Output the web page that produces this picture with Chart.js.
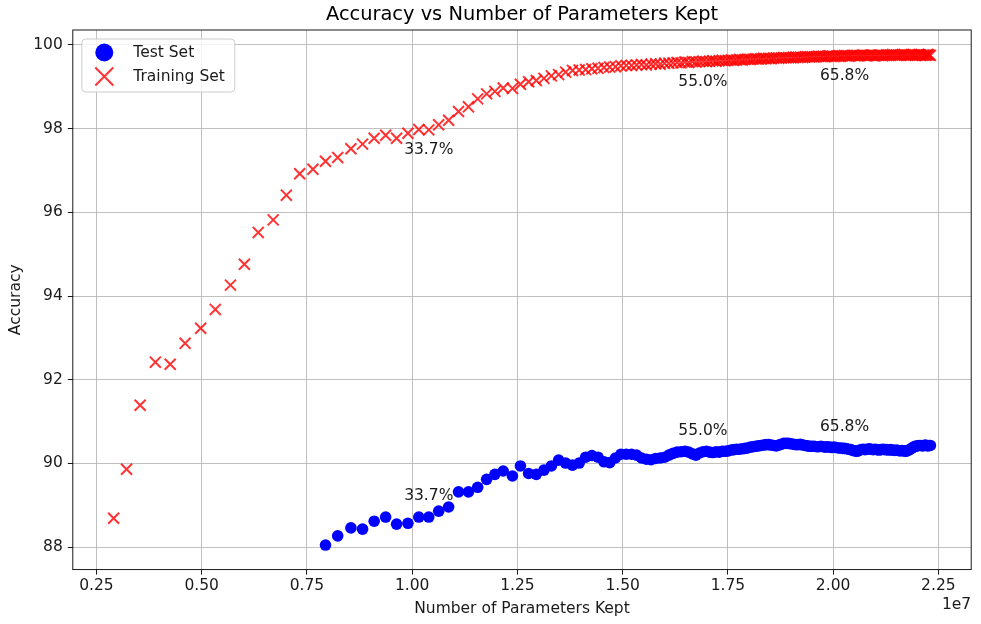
<!DOCTYPE html>
<html>
<head>
<meta charset="utf-8">
<script src="https://cdn.jsdelivr.net/npm/chart.js@4.4.1/dist/chart.umd.min.js"></script>
<style>
  html, body { margin: 0; padding: 0; background: #ffffff; }
  #c { display: block; }
</style>
</head>
<body>
<canvas id="c" width="981" height="624"></canvas>
<script>
// ---------- DATA (x in units of 1e7 parameters) ----------
const paramsKept = [
  0.2908, 0.3215, 0.3538, 0.3899, 0.4252, 0.4606, 0.4976, 0.5323, 0.5684, 0.6014,
  0.6344, 0.6698, 0.7012, 0.7328, 0.7642, 0.7941, 0.8231, 0.8545, 0.8821, 0.9097,
  0.9370, 0.9630, 0.9899, 1.0158, 1.0394, 1.0630, 1.0866, 1.1101, 1.1337, 1.1557,
  1.1769, 1.1965, 1.2163, 1.2382, 1.2571, 1.2767, 1.2948, 1.3130, 1.3307, 1.3479,
  1.3646, 1.3809, 1.3967, 1.4120, 1.4269, 1.4415, 1.4557, 1.4693, 1.4828, 1.4958,
  1.5085, 1.5210, 1.5330, 1.5448, 1.5564, 1.5677, 1.5785, 1.5892, 1.5995, 1.6097,
  1.6196, 1.6292, 1.6387, 1.6479, 1.6568, 1.6656, 1.6741, 1.6825, 1.6908, 1.6988,
  1.7066, 1.7144, 1.7219, 1.7292, 1.7366, 1.7436, 1.7507, 1.7575, 1.7642, 1.7708,
  1.7774, 1.7840, 1.7905, 1.7970, 1.8034, 1.8098, 1.8161, 1.8224, 1.8286, 1.8348,
  1.8409, 1.8470, 1.8530, 1.8590, 1.8650, 1.8709, 1.8768, 1.8826, 1.8884, 1.8942,
  1.8999, 1.9056, 1.9112, 1.9168, 1.9224, 1.9279, 1.9334, 1.9389, 1.9443, 1.9497,
  1.9551, 1.9604, 1.9657, 1.9710, 1.9762, 1.9814, 1.9866, 1.9918, 1.9969, 2.0020,
  2.0071, 2.0122, 2.0172, 2.0222, 2.0272, 2.0322, 2.0371, 2.0420, 2.0469, 2.0518,
  2.0567, 2.0615, 2.0663, 2.0711, 2.0759, 2.0807, 2.0855, 2.0902, 2.0949, 2.0996,
  2.1043, 2.1090, 2.1137, 2.1183, 2.1229, 2.1275, 2.1321, 2.1367, 2.1413, 2.1459,
  2.1504, 2.1549, 2.1594, 2.1639, 2.1684, 2.1729, 2.1774, 2.1819, 2.1863, 2.1907,
  2.1951, 2.1995, 2.2039, 2.2083, 2.2127, 2.2160, 2.2190, 2.2220, 2.2250, 2.2280,
  2.2310
];

const trainAcc = [
  88.69, 89.86, 91.39, 92.42, 92.37, 92.87, 93.23, 93.68, 94.26, 94.76,
  95.52, 95.82, 96.41, 96.92, 97.03, 97.22, 97.31, 97.52, 97.63, 97.77,
  97.84, 97.77, 97.89, 97.98, 97.97, 98.09, 98.20, 98.41, 98.52, 98.71,
  98.83, 98.89, 98.97, 98.96, 99.06, 99.12, 99.15, 99.20, 99.26, 99.29,
  99.35, 99.39, 99.40, 99.41, 99.43, 99.44, 99.46, 99.47, 99.48, 99.50,
  99.51, 99.51, 99.52, 99.53, 99.52, 99.54, 99.55, 99.54, 99.56, 99.56,
  99.57, 99.58, 99.57, 99.59, 99.58, 99.60, 99.59, 99.60, 99.61, 99.60,
  99.61, 99.62, 99.61, 99.62, 99.63, 99.62, 99.63, 99.64, 99.63, 99.64,
  99.65, 99.64, 99.65, 99.66, 99.65, 99.66, 99.67, 99.66, 99.67, 99.68,
  99.67, 99.68, 99.67, 99.68, 99.69, 99.68, 99.69, 99.70, 99.69, 99.70,
  99.69, 99.70, 99.71, 99.70, 99.71, 99.70, 99.71, 99.72, 99.71, 99.72,
  99.71, 99.72, 99.73, 99.72, 99.73, 99.72, 99.73, 99.74, 99.73, 99.72,
  99.73, 99.74, 99.73, 99.74, 99.75, 99.74, 99.73, 99.74, 99.75, 99.74,
  99.75, 99.74, 99.75, 99.76, 99.75, 99.74, 99.75, 99.76, 99.75, 99.74,
  99.75, 99.76, 99.75, 99.74, 99.75, 99.76, 99.75, 99.76, 99.77, 99.76,
  99.75, 99.76, 99.75, 99.76, 99.77, 99.76, 99.75, 99.76, 99.77, 99.76,
  99.75, 99.76, 99.77, 99.76, 99.75, 99.76, 99.75, 99.76, 99.77, 99.76,
  99.75
];

// test accuracy is only measured from the 16th pruning step onward
const TEST_START = 15;
const testAcc = [
  88.05, 88.27, 88.46, 88.43, 88.62, 88.72, 88.55, 88.57, 88.72, 88.72,
  88.86, 88.96, 89.32, 89.32, 89.43, 89.62, 89.74, 89.82, 89.70, 89.94,
  89.76, 89.74, 89.84, 89.94, 90.08, 90.01, 89.96, 90.01, 90.15, 90.19,
  90.15, 90.04, 90.02, 90.13, 90.22, 90.22, 90.22, 90.20, 90.13, 90.10,
  90.09, 90.12, 90.13, 90.15, 90.20, 90.24, 90.27, 90.28, 90.29, 90.27,
  90.23, 90.20, 90.25, 90.28, 90.29, 90.27, 90.26, 90.28, 90.27, 90.29,
  90.29, 90.30, 90.32, 90.33, 90.34, 90.34, 90.35, 90.36, 90.37, 90.39,
  90.40, 90.41, 90.42, 90.43, 90.44, 90.45, 90.45, 90.44, 90.43, 90.42,
  90.44, 90.46, 90.48, 90.48, 90.48, 90.47, 90.46, 90.45, 90.45, 90.46,
  90.44, 90.43, 90.42, 90.41, 90.41, 90.41, 90.40, 90.40, 90.41, 90.40,
  90.39, 90.40, 90.39, 90.38, 90.39, 90.38, 90.37, 90.37, 90.36, 90.36,
  90.35, 90.34, 90.33, 90.31, 90.30, 90.29, 90.31, 90.33, 90.34, 90.33,
  90.34, 90.35, 90.34, 90.33, 90.34, 90.33, 90.32, 90.33, 90.34, 90.33,
  90.33, 90.32, 90.33, 90.32, 90.31, 90.32, 90.31, 90.30, 90.31, 90.30,
  90.29, 90.31, 90.33, 90.36, 90.39, 90.41, 90.42, 90.43, 90.43, 90.42,
  90.43, 90.44, 90.43, 90.42, 90.43, 90.43
];

const annotIndex = [24, 68, 124];
const annotLabels = ['33.7%', '55.0%', '65.8%'];

const X_MIN = 0.1938, X_MAX = 2.328;
const Y_MIN = 87.464, Y_MAX = 100.356;
const X_STEP = 0.25, Y_STEP = 2;

// ---------- build library data ----------
const trainPoints = paramsKept.map((x, i) => ({ x: x, y: trainAcc[i] }));
const testPoints = testAcc.map((v, i) => ({ x: paramsKept[i + TEST_START], y: v }));

const FONT = '"DejaVu Sans", "Liberation Sans", sans-serif';
const FS = 15.5;
Chart.defaults.font.family = FONT;

const overlay = {
  id: 'overlay',
  afterDatasetsDraw(chart) {
    const { ctx, chartArea: a, scales } = chart;
    const xs = scales.x, ys = scales.y;
    ctx.save();

    // spines
    ctx.strokeStyle = '#000';
    ctx.lineWidth = 0.9;
    ctx.strokeRect(a.left, a.top, a.right - a.left, a.bottom - a.top);

    // annotations
    ctx.font = FS + 'px ' + FONT;
    ctx.fillStyle = '#1a1a1a';
    ctx.textAlign = 'center';
    ctx.textBaseline = 'middle';
    annotIndex.forEach((idx, k) => {
      const px = xs.getPixelForValue(paramsKept[idx]);
      ctx.fillText(annotLabels[k], px, ys.getPixelForValue(trainAcc[idx]) + 20.5);
      ctx.fillText(annotLabels[k], px, ys.getPixelForValue(testAcc[idx - TEST_START]) - 21);
    });

    // legend
    const lx = a.left + 9, ly = a.top + 9, lw = 153, lh = 53, r = 4;
    ctx.beginPath();
    ctx.moveTo(lx + r, ly);
    ctx.lineTo(lx + lw - r, ly);
    ctx.arcTo(lx + lw, ly, lx + lw, ly + r, r);
    ctx.lineTo(lx + lw, ly + lh - r);
    ctx.arcTo(lx + lw, ly + lh, lx + lw - r, ly + lh, r);
    ctx.lineTo(lx + r, ly + lh);
    ctx.arcTo(lx, ly + lh, lx, ly + lh - r, r);
    ctx.lineTo(lx, ly + r);
    ctx.arcTo(lx, ly, lx + r, ly, r);
    ctx.closePath();
    ctx.fillStyle = 'rgba(255,255,255,0.8)';
    ctx.fill();
    ctx.strokeStyle = '#cccccc';
    ctx.lineWidth = 1;
    ctx.stroke();

    const mx = lx + 22.5;
    const y1 = ly + 13.5, y2 = ly + 37.5;
    ctx.beginPath();
    ctx.arc(mx, y1, 9, 0, Math.PI * 2);
    ctx.fillStyle = '#0000ff';
    ctx.fill();

    ctx.beginPath();
    ctx.moveTo(mx - 9, y2 - 9); ctx.lineTo(mx + 9, y2 + 9);
    ctx.moveTo(mx - 9, y2 + 9); ctx.lineTo(mx + 9, y2 - 9);
    ctx.strokeStyle = 'rgba(255,0,0,0.8)';
    ctx.lineWidth = 2;
    ctx.stroke();

    ctx.fillStyle = '#1a1a1a';
    ctx.textAlign = 'left';
    ctx.textBaseline = 'middle';
    ctx.font = FS + 'px ' + FONT;
    ctx.fillText('Test Set', lx + 51.5, y1);
    ctx.fillText('Training Set', lx + 51.5, y2);

    // title
    ctx.font = '19.4px ' + FONT;
    ctx.textAlign = 'center';
    ctx.fillStyle = '#000';
    ctx.fillText('Accuracy vs Number of Parameters Kept', (a.left + a.right) / 2, 14.5);

    // offset text
    ctx.font = FS + 'px ' + FONT;
    ctx.textAlign = 'right';
    ctx.fillStyle = '#1a1a1a';
    ctx.fillText('1e7', a.right, 605);

    ctx.restore();
  }
};

new Chart(document.getElementById('c'), {
  type: 'scatter',
  data: {
    datasets: [
      {
        label: 'Test Set',
        data: testPoints,
        pointStyle: 'circle',
        pointRadius: 5.8,
        pointHoverRadius: 5.8,
        backgroundColor: '#0000ff',
        borderColor: '#0000ff',
        pointBorderWidth: 0
      },
      {
        label: 'Training Set',
        data: trainPoints,
        pointStyle: 'crossRot',
        pointRadius: 7.8,
        pointHoverRadius: 7.8,
        backgroundColor: 'rgba(255,0,0,0.8)',
        borderColor: 'rgba(255,0,0,0.8)',
        pointBorderWidth: 2
      }
    ]
  },
  options: {
    responsive: false,
    animation: false,
    events: [],
    layout: { padding: { top: 30, right: 0, left: 0, bottom: 0 } },
    plugins: {
      legend: { display: false },
      tooltip: { enabled: false },
      title: { display: false }
    },
    scales: {
      x: {
        type: 'linear',
        min: X_MIN,
        max: X_MAX,
        afterFit(s) { s.height = 54.4; },
        ticks: {
          stepSize: X_STEP,
          includeBounds: false,
          autoSkip: false,
          maxRotation: 0,
          padding: 2,
          color: '#1a1a1a',
          font: { size: FS },
          callback: v => v.toFixed(2)
        },
        grid: { color: '#b0b0b0', lineWidth: 0.8, tickColor: '#000', tickLength: 5, tickWidth: 0.9 },
        border: { display: false },
        title: {
          display: true,
          text: 'Number of Parameters Kept',
          color: '#1a1a1a',
          font: { size: FS },
          padding: { top: 0, bottom: 6 }
        }
      },
      y: {
        type: 'linear',
        min: Y_MIN,
        max: Y_MAX,
        afterFit(s) { s.width = 72.8; },
        ticks: {
          stepSize: Y_STEP,
          includeBounds: false,
          autoSkip: false,
          padding: 5,
          color: '#1a1a1a',
          font: { size: FS }
        },
        grid: { color: '#b0b0b0', lineWidth: 0.8, tickColor: '#000', tickLength: 5, tickWidth: 0.9 },
        border: { display: false },
        title: {
          display: true,
          text: 'Accuracy',
          color: '#1a1a1a',
          font: { size: FS },
          padding: { top: 7, bottom: 0 }
        }
      }
    }
  },
  plugins: [overlay]
});
</script>
</body>
</html>
